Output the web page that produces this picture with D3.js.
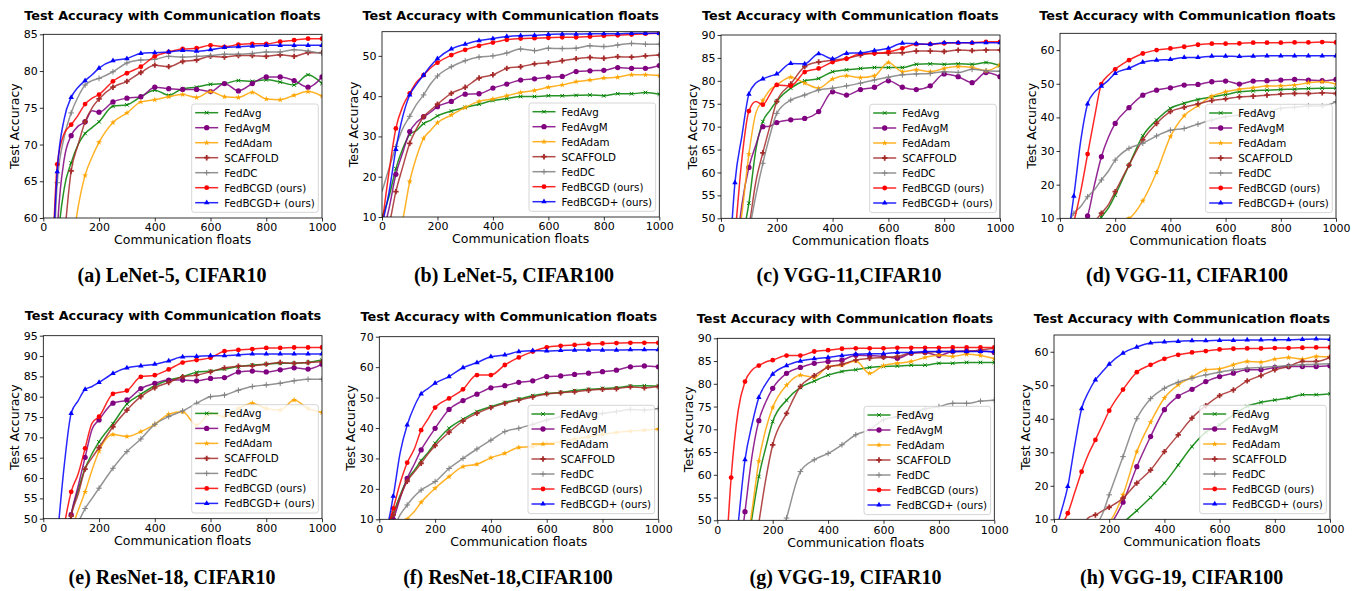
<!DOCTYPE html>
<html>
<head>
<meta charset="utf-8">
<script src="https://cdn.jsdelivr.net/npm/d3@7"></script>
<style>
  body { margin: 0; background: #fff; }
  svg text { font-family: "DejaVu Sans", sans-serif; }
</style>
</head>
<body>
<div id="chart"></div>
<script>
// x positions (communication floats) shared by every series
var floats = [0, 25, 50, 75, 100, 125, 150, 175, 200, 250, 300, 350, 400, 450, 500, 550, 600, 650, 700, 750, 800, 850, 900, 950, 1000];
var methods = ["FedAvg", "FedAvgM", "FedAdam", "SCAFFOLD", "FedDC", "FedBCGD (ours)", "FedBCGD+ (ours)"];
var xTicks = [0, 200, 400, 600, 800, 1000];
var captions = ["(a) LeNet-5, CIFAR10", "(b) LeNet-5, CIFAR100", "(c) VGG-11,CIFAR10", "(d) VGG-11, CIFAR100",
                "(e) ResNet-18, CIFAR10", "(f) ResNet-18,CIFAR100", "(g) VGG-19, CIFAR10", "(h) VGG-19, CIFAR100"];
var yDomains = [[60, 85], [10, 56], [50, 90], [10, 65], [50, 95], [10, 70], [50, 90], [10, 65]];
var yTicks = [
    [60, 65, 70, 75, 80, 85],
    [10, 20, 30, 40, 50],
    [50, 55, 60, 65, 70, 75, 80, 85, 90],
    [10, 20, 30, 40, 50, 60],
    [50, 55, 60, 65, 70, 75, 80, 85, 90, 95],
    [10, 20, 30, 40, 50, 60, 70],
    [50, 55, 60, 65, 70, 75, 80, 85, 90],
    [10, 20, 30, 40, 50, 60]
];

// test accuracy, one row per method (same order as methods)
var lenetCifar10 = [
    [10, 30, 55, 64, 67.5, 70, 71.5, 72.3, 73.1, 75.2, 75.4, 76.5, 77.4, 76.7, 77.6, 77.8, 78.2, 78.3, 78.7, 78.6, 78.8, 78.5, 78.1, 79.5, 78.3],
    [10, 30, 58, 68, 71.2, 72.5, 73.1, 74.6, 74.4, 75.8, 76.3, 76.5, 77.8, 77.6, 77.5, 77.5, 77.2, 78.3, 77.3, 78.3, 79.2, 79.2, 78.7, 77.8, 79.2],
    [10, 25, 35, 48, 55, 61.5, 65.8, 68.3, 70.3, 73.0, 74.3, 75.8, 76.1, 76.5, 76.8, 76.4, 77.2, 76.5, 76.4, 77.1, 76.2, 76.1, 76.7, 77.2, 76.6],
    [10, 30, 45, 57, 66.4, 70, 73.1, 75, 76.2, 77.8, 78.6, 79.8, 80.8, 80.6, 81.3, 81.5, 82.0, 81.9, 82.1, 82.1, 82.0, 82.2, 82.0, 82.5, 82.5],
    [10, 40, 64.8, 71, 74.3, 76.5, 78.1, 78.7, 79.0, 79.9, 81.1, 81.5, 81.6, 82.0, 81.9, 82.0, 82.1, 82.3, 82.3, 82.4, 82.6, 82.6, 82.9, 82.7, 82.4],
    [10, 45, 67.3, 71.5, 72.7, 74, 75.5, 76.3, 76.8, 78.6, 79.7, 80.6, 82.0, 82.6, 83.0, 83.1, 83.5, 83.3, 83.6, 83.7, 83.7, 84.0, 84.2, 84.4, 84.4],
    [10, 45, 66.3, 73.5, 76.4, 77.8, 78.7, 79.5, 80.4, 81.4, 81.7, 82.4, 82.5, 82.6, 82.8, 82.7, 82.9, 83.2, 83.3, 83.4, 83.5, 83.5, 83.5, 83.5, 83.5]
];
var lenetCifar100 = [
    [10, 15, 22, 27, 30.5, 31.5, 33.2, 34, 35.1, 36.3, 37.2, 38.0, 38.9, 39.4, 39.9, 39.9, 40.1, 40.1, 40.2, 40.3, 40.1, 40.6, 40.6, 40.9, 40.5],
    [5, 12, 20.6, 26, 31.2, 33.5, 34.9, 36, 37.4, 38.7, 40.5, 40.6, 42.0, 43.0, 44.0, 44.3, 44.7, 44.9, 46.1, 46.3, 46.4, 47.1, 46.9, 46.9, 47.6],
    [1, 2, 5, 9.5, 18.8, 25, 29.5, 31.5, 33.4, 35.3, 37.2, 38.7, 39.3, 40.1, 40.9, 41.4, 42.2, 42.8, 43.6, 44.0, 44.5, 44.7, 45.3, 45.3, 45.1],
    [5, 8, 16.3, 22.5, 28.3, 32, 34.9, 36.5, 38.0, 40.7, 42.2, 44.5, 45.3, 46.9, 47.3, 48.0, 48.3, 48.8, 49.3, 49.6, 49.4, 49.8, 49.7, 50.0, 50.2],
    [16.3, 22, 27.5, 32, 35, 38, 40.3, 43, 45.0, 47.3, 48.8, 49.7, 50.0, 50.7, 51.7, 51.3, 51.9, 51.8, 51.9, 52.5, 52.3, 52.7, 53.1, 52.9, 52.9],
    [8, 21, 32.0, 37.5, 40.7, 43.5, 45.2, 47, 48.3, 50.2, 51.5, 52.5, 53.3, 54.0, 54.3, 54.4, 54.5, 54.6, 54.6, 54.8, 55.0, 55.1, 55.3, 55.5, 55.6],
    [8, 16, 26.8, 35, 40.3, 43, 45.2, 47.5, 49.3, 51.7, 52.9, 53.8, 54.3, 54.8, 55.0, 55.1, 55.3, 55.4, 55.4, 55.5, 55.5, 55.5, 55.6, 55.6, 55.6]
];
var vgg11Cifar10 = [
    [10, 20, 35, 45, 53.3, 65, 71.1, 73.5, 75.6, 78.4, 80.0, 80.5, 82.0, 82.4, 82.7, 82.9, 82.9, 82.9, 83.6, 83.7, 83.6, 83.7, 83.6, 84.0, 83.3],
    [10, 25, 40, 53, 61.1, 66, 70.0, 70.1, 70.9, 71.5, 71.8, 73.3, 77.6, 76.9, 78.1, 78.6, 80.0, 78.6, 78.1, 78.9, 81.5, 80.9, 79.6, 81.8, 80.9],
    [10, 25, 40, 51, 64.0, 73, 75.7, 78, 79.1, 80.8, 79.5, 78.4, 80.4, 81.1, 80.7, 81.1, 84.0, 82.0, 82.4, 82.0, 82.7, 83.1, 82.9, 82.2, 83.5],
    [10, 20, 30, 40, 48, 58, 64.3, 70, 75.5, 79.3, 83.1, 84.1, 84.5, 84.9, 85.6, 86.0, 86.0, 86.1, 86.5, 86.5, 86.4, 86.7, 86.6, 86.7, 86.7],
    [10, 20, 30, 40, 47, 55, 62, 68, 72.9, 75.8, 76.9, 78.0, 78.4, 78.9, 79.5, 80.2, 80.8, 81.3, 81.5, 81.6, 82.0, 81.8, 82.5, 82.2, 82.1],
    [10, 30, 46, 63, 73.4, 75.5, 74.8, 77, 79.1, 78.9, 81.9, 82.7, 84.1, 84.8, 85.9, 86.0, 86.3, 87.1, 88.0, 88.0, 88.2, 88.3, 88.3, 88.5, 88.5],
    [10, 35, 57.8, 68, 77.1, 79.5, 80.4, 81, 81.5, 83.8, 83.7, 85.9, 84.8, 86.0, 86.1, 86.6, 87.1, 88.2, 88.1, 88.0, 88.3, 88.3, 88.3, 88.3, 88.3]
];
var vgg11Cifar100 = [
    [1, 2, 3, 4, 5, 7, 10.3, 13, 16.9, 25.8, 34.5, 39.2, 42.7, 44.2, 45.3, 46.1, 46.8, 47.6, 47.9, 48.1, 48.3, 48.4, 48.6, 48.7, 48.7],
    [1, 2, 4, 7, 10.7, 20, 28.3, 34, 38.2, 42.9, 46.6, 48.1, 48.8, 49.6, 49.8, 50.6, 50.8, 49.9, 50.8, 50.9, 51.1, 51.3, 51.1, 50.9, 51.3],
    [1, 2, 3, 4, 5, 6, 7, 8, 9, 10, 15.2, 23.7, 34.3, 40.5, 43.5, 46.3, 47.6, 48.4, 48.8, 49.3, 49.4, 49.6, 50.3, 50.6, 49.9],
    [1, 2, 3, 5, 7, 9, 11.5, 14, 17.9, 25.8, 33.3, 38.2, 41.7, 43.0, 44.0, 45.0, 45.5, 46.1, 46.3, 46.6, 46.9, 47.1, 47.1, 47.3, 47.1],
    [5, 8, 11.5, 13.5, 16.4, 18.5, 21.4, 24, 27.3, 30.8, 32.3, 34.5, 36.2, 36.7, 38.0, 39.2, 40.2, 40.7, 41.4, 41.7, 42.7, 43.0, 43.4, 43.4, 44.7],
    [1, 4, 9, 18, 29.1, 40, 49.9, 52.5, 54.3, 57.0, 59.0, 60.0, 60.5, 61.0, 61.6, 61.9, 61.9, 62.0, 62.2, 62.2, 62.2, 62.3, 62.3, 62.4, 62.3],
    [1, 4, 16.6, 33, 44.0, 47.5, 49.3, 51, 53.1, 54.6, 56.4, 57.0, 57.2, 57.8, 57.8, 58.2, 58.2, 58.1, 58.2, 58.3, 58.3, 58.3, 58.3, 58.3, 58.3]
];
var resnetCifar10 = [
    [10, 20, 30, 40, 51, 57, 62.4, 66, 68.9, 73.4, 78.2, 80.6, 82.7, 84.1, 84.9, 86.0, 86.3, 86.8, 87.4, 87.8, 88.0, 88.2, 88.2, 88.4, 89.0],
    [10, 20, 30, 40, 51, 58, 65.1, 72, 74.3, 78.4, 79.2, 82.0, 83.3, 84.1, 84.1, 83.9, 84.5, 84.7, 86.1, 86.3, 86.1, 86.6, 87.1, 86.8, 88.0],
    [10, 20, 30, 40, 47, 52, 56.6, 62, 66.6, 70.7, 70.2, 71.4, 73.2, 75.7, 76.3, 73.0, 75.9, 75.1, 77.1, 78.4, 77.1, 76.7, 79.2, 77.1, 76.1],
    [10, 20, 30, 40, 50.7, 56, 62.2, 65, 67.5, 72.6, 76.7, 80.0, 82.2, 83.5, 84.9, 85.3, 86.1, 87.1, 87.5, 87.6, 88.0, 88.4, 88.2, 88.4, 88.6],
    [10, 20, 30, 40, 45, 49, 52.5, 55, 57.5, 62.4, 66.5, 69.6, 73.2, 75.1, 76.5, 78.4, 80.0, 80.4, 81.6, 82.5, 82.9, 83.3, 83.9, 84.3, 84.3],
    [10, 20, 35, 48, 56.6, 61, 67.3, 73.5, 75.1, 80.7, 81.5, 84.9, 85.3, 86.7, 88.4, 89.0, 89.6, 91.2, 91.5, 91.7, 92.0, 92.0, 92.1, 92.1, 92.1],
    [10, 25, 45, 63, 75.9, 79, 81.8, 82.5, 83.5, 85.7, 87.1, 87.6, 88.0, 88.8, 89.8, 89.9, 90.1, 90.1, 90.3, 90.5, 90.5, 90.5, 90.5, 90.5, 90.5]
];
var resnetCifar100 = [
    [5, 8, 12, 18, 23.1, 26, 29.3, 32, 35.0, 39.9, 42.9, 45.4, 47.0, 48.4, 49.5, 50.6, 51.3, 51.7, 52.3, 52.7, 53.0, 53.2, 53.8, 53.9, 53.8],
    [3, 6, 10, 17, 23.4, 28, 32.8, 36.5, 39.9, 46.1, 49.0, 51.1, 53.2, 53.9, 55.0, 55.5, 56.9, 57.1, 57.6, 58.0, 58.5, 59.0, 60.1, 60.4, 60.1],
    [1, 2, 3, 5, 10, 12.5, 15.6, 18, 20.2, 24.0, 27.3, 28.1, 30.2, 31.7, 33.6, 33.9, 35.0, 35.5, 36.4, 37.1, 37.9, 38.5, 39.0, 39.3, 39.7],
    [5, 8, 11.5, 17.5, 22.5, 25.5, 28.4, 31.5, 34.2, 38.6, 42.3, 44.8, 46.7, 48.1, 49.2, 50.2, 51.2, 51.6, 51.9, 52.4, 52.7, 52.9, 53.5, 53.2, 53.6],
    [2, 4, 7, 11.5, 14.7, 17.5, 19.6, 21, 22.4, 26.7, 30.0, 33.1, 36.0, 38.8, 39.9, 41.2, 42.6, 43.7, 44.8, 44.3, 44.8, 45.4, 46.1, 45.9, 46.4],
    [5, 7, 13.6, 22, 28.6, 33, 39.3, 43, 46.7, 49.7, 52.7, 57.4, 57.4, 60.7, 63.2, 65.1, 66.5, 67.0, 67.3, 67.6, 67.8, 67.9, 68.0, 68.0, 68.0],
    [5, 7, 17.6, 32, 41, 47, 51.2, 53, 54.7, 56.9, 59.8, 61.5, 63.4, 64.0, 65.1, 65.4, 65.3, 65.5, 65.6, 65.6, 65.6, 65.6, 65.7, 65.7, 65.7]
];
var vgg19Cifar10 = [
    [10, 15, 20, 30, 40, 50.5, 59.6, 66, 71.7, 76.4, 79.2, 80.6, 81.9, 82.7, 83.1, 83.6, 83.8, 83.9, 84.1, 84.1, 84.5, 84.5, 84.7, 84.7, 84.7],
    [10, 20, 30, 40, 51.9, 64, 71.9, 76, 79.0, 82.3, 83.6, 84.5, 84.9, 85.2, 86.3, 86.2, 86.0, 85.6, 86.7, 86.9, 86.2, 87.1, 87.2, 87.2, 86.9],
    [10, 15, 20, 30, 42, 52, 63.0, 70, 74.8, 79.7, 81.9, 81.4, 83.8, 84.1, 85.0, 82.3, 84.0, 84.5, 84.9, 85.8, 86.3, 86.0, 86.5, 86.2, 85.5],
    [10, 15, 20, 25, 30, 40, 49.5, 59, 66.6, 73.5, 79.4, 81.8, 83.6, 84.3, 85.2, 85.6, 85.8, 86.0, 86.8, 86.9, 87.1, 87.1, 87.1, 87.4, 87.8],
    [10, 12, 15, 18, 22, 26, 30, 34, 40, 50.5, 60.7, 63.3, 64.7, 66.6, 68.8, 69.9, 72.1, 72.8, 73.5, 74.5, 75.0, 75.7, 75.7, 76.2, 76.4],
    [10, 35, 59.4, 74, 80.5, 83, 84.0, 84.8, 85.2, 86.2, 86.2, 87.1, 87.4, 87.7, 87.8, 87.8, 87.8, 87.9, 87.9, 87.9, 87.9, 88.0, 88.0, 88.0, 88.0],
    [10, 20, 35, 49, 63.3, 71, 77.0, 80, 82.1, 84.0, 85.0, 85.5, 85.8, 86.2, 86.5, 86.6, 86.6, 86.9, 86.9, 87.1, 87.1, 87.1, 87.1, 87.1, 87.1]
];
var vgg19Cifar100 = [
    [1, 1, 1, 1, 1, 2, 3, 4, 5, 9, 12.6, 16.5, 20.8, 26.2, 31.7, 36.0, 38.2, 41.2, 43.7, 44.9, 45.6, 46.2, 47.2, 47.2, 47.5],
    [1, 1, 1, 2, 3, 4, 5, 6, 8, 15.1, 25.7, 34.7, 42.7, 46.7, 48.8, 51.1, 52.6, 53.6, 54.6, 54.6, 55.3, 55.6, 55.6, 55.6, 55.8],
    [1, 1, 1, 2, 3, 4, 5, 7, 9, 17.3, 30.2, 39.0, 46.2, 50.1, 52.4, 54.6, 54.9, 56.1, 57.1, 56.9, 57.8, 58.3, 57.8, 58.6, 58.5],
    [1, 2, 4, 6, 8, 10.5, 11.3, 12.5, 13.6, 16.3, 20.8, 24.7, 30.2, 35.2, 40.2, 43.9, 46.9, 48.6, 51.3, 52.9, 54.6, 55.6, 57.1, 57.1, 58.3],
    [1, 2, 3, 4, 5, 6, 8, 11.5, 17.3, 28.7, 40.0, 46.0, 49.1, 50.9, 52.1, 53.1, 53.9, 54.6, 55.1, 55.3, 55.6, 55.9, 56.1, 56.3, 56.4],
    [5, 8, 11.8, 18, 24.2, 29.5, 33.7, 38, 42.4, 48.7, 53.9, 56.1, 57.9, 59.1, 59.8, 60.2, 60.7, 60.9, 61.0, 61.0, 61.1, 61.1, 61.2, 61.3, 61.3],
    [5, 12, 19.8, 32, 43.0, 48, 51.6, 54, 56.3, 59.6, 61.4, 62.6, 62.9, 63.1, 63.3, 63.3, 63.4, 63.4, 63.5, 63.5, 63.6, 63.6, 63.7, 63.8, 63.7]
];
var panelData = [lenetCifar10, lenetCifar100, vgg11Cifar10, vgg11Cifar100,
                 resnetCifar10, resnetCifar100, vgg19Cifar10, vgg19Cifar100];

// styling
var colors = ["green", "purple", "orange", "brown", "gray", "red", "blue"];
var markerTypes = ["x", "circle", "star", "cross", "plus", "dot", "triangle"];

// plot areas in page pixels, plus title / caption anchor points
var layout = [
    {l: 43.3, r: 322, t: 34.3, b: 218, tx: 172.5, ty: 15, cx: 172, cy: 275},
    {l: 382, r: 659.3, t: 31.7, b: 217, tx: 510.7, ty: 15, cx: 514, cy: 275},
    {l: 721, r: 1000, t: 35, b: 218.3, tx: 850.3, ty: 15, cx: 849, cy: 275},
    {l: 1060, r: 1336, t: 33.3, b: 218.3, tx: 1187.5, ty: 15, cx: 1187, cy: 275},
    {l: 43.3, r: 322, t: 335.7, b: 518.7, tx: 173, ty: 315, cx: 172, cy: 576.7},
    {l: 379.3, r: 658.3, t: 336.7, b: 519.3, tx: 508.8, ty: 316.7, cx: 508, cy: 576.7},
    {l: 717.3, r: 994.3, t: 338.3, b: 520.3, tx: 845, ty: 318.3, cx: 845.5, cy: 576.7},
    {l: 1054, r: 1330, t: 335, b: 519.3, tx: 1182, ty: 318.3, cx: 1181.7, cy: 576.7}
];

var svg = d3.select("#chart")
    .append("svg")
    .attr("width", 1361)
    .attr("height", 591);

function drawMarker(g, type, color) {
    if (type == "x") {
        g.append("path").attr("d", d3.symbol(d3.symbolTimes, 10)())
            .attr("fill", "none").attr("stroke", color).attr("stroke-width", 1);
    } else if (type == "plus") {
        g.append("path").attr("d", d3.symbol(d3.symbolPlus, 12)())
            .attr("fill", "none").attr("stroke", color).attr("stroke-width", 1);
    } else if (type == "circle") {
        g.append("path").attr("d", d3.symbol(d3.symbolCircle, 22)()).attr("fill", color);
    } else if (type == "star") {
        g.append("path").attr("d", d3.symbol(d3.symbolStar, 11)()).attr("fill", color);
    } else if (type == "cross") {
        g.append("path").attr("d", d3.symbol(d3.symbolCross, 16)()).attr("fill", color);
    } else if (type == "dot") {
        g.append("path").attr("d", d3.symbol(d3.symbolCircle, 18)()).attr("fill", color);
    } else {
        g.append("path").attr("d", d3.symbol(d3.symbolTriangle, 13)()).attr("fill", color);
    }
}

panelData.forEach(function(series, p) {
    var box = layout[p];
    var w = box.r - box.l;
    var h = box.b - box.t;

    var xScale = d3.scaleLinear().domain([0, 1000]).range([0, w]);
    var yScale = d3.scaleLinear().domain(yDomains[p]).range([h, 0]);

    var g = svg.append("g").attr("transform", `translate(${box.l}, ${box.t})`);

    svg.append("clipPath").attr("id", "clip" + p)
        .append("rect").attr("width", w).attr("height", h);

    // axes
    var bottomAxis = d3.axisBottom(xScale).tickValues(xTicks).tickFormat(d3.format("d"))
        .tickSize(3.5).tickPadding(2).tickSizeOuter(0);
    var leftAxis = d3.axisLeft(yScale).tickValues(yTicks[p]).tickFormat(d3.format("d"))
        .tickSize(3.5).tickPadding(2).tickSizeOuter(0);

    var xAxis = g.append("g").attr("transform", `translate(0, ${h})`).call(bottomAxis);
    var yAxis = g.append("g").call(leftAxis);
    [xAxis, yAxis].forEach(function(a) {
        a.select(".domain").remove();
        a.selectAll("line").attr("stroke", "#000").attr("stroke-width", 0.8);
        a.selectAll("text").attr("fill", "#000").style("font-size", "11px")
            .style("font-family", "'DejaVu Sans', sans-serif");
    });

    // lines and markers
    var plot = g.append("g").attr("clip-path", `url(#clip${p})`);
    var line = d3.line()
        .x(function(d, i) { return xScale(floats[i]); })
        .y(function(d) { return yScale(d); })
        .curve(d3.curveMonotoneX);

    series.forEach(function(vals, m) {
        plot.append("path")
            .datum(vals)
            .attr("d", line)
            .attr("fill", "none")
            .attr("stroke", colors[m])
            .attr("stroke-opacity", 0.85)
            .attr("stroke-width", 1.5);

        vals.forEach(function(v, i) {
            if (floats[i] > 0 && floats[i] % 50 == 0) {
                var mk = plot.append("g")
                    .attr("transform", `translate(${xScale(floats[i])}, ${yScale(v)})`);
                drawMarker(mk, markerTypes[m], colors[m]);
            }
        });
    });

    // frame
    g.append("rect").attr("width", w).attr("height", h)
        .attr("fill", "none").attr("stroke", "#000").attr("stroke-width", 0.8);

    // axis labels
    g.append("text")
        .attr("transform", `translate(${-29}, ${h / 2}) rotate(-90)`)
        .attr("text-anchor", "middle")
        .attr("dominant-baseline", "central")
        .style("font-size", "12.5px")
        .text("Test Accuracy");

    g.append("text")
        .attr("x", w / 2)
        .attr("y", h + 22)
        .attr("text-anchor", "middle")
        .attr("dominant-baseline", "central")
        .style("font-size", "12.5px")
        .text("Communication floats");

    // legend
    var legW = 126.6, legH = 108.3;
    var leg = g.append("g").attr("transform", `translate(${w - 3.7 - legW}, ${h - 5.7 - legH})`);
    leg.append("rect").attr("width", legW).attr("height", legH).attr("rx", 2.5)
        .attr("fill", "#fff").attr("fill-opacity", 0.8)
        .attr("stroke", "#ccc").attr("stroke-width", 0.8);
    methods.forEach(function(name, m) {
        var yy = 8.7 + m * 15;
        leg.append("line").attr("x1", 3.5).attr("x2", 26.5).attr("y1", yy).attr("y2", yy)
            .attr("stroke", colors[m]).attr("stroke-opacity", 0.85).attr("stroke-width", 1.5);
        var mk = leg.append("g").attr("transform", `translate(15, ${yy})`);
        drawMarker(mk, markerTypes[m], colors[m]);
        leg.append("text").attr("x", 32.5).attr("y", yy)
            .attr("dominant-baseline", "central")
            .style("font-size", "10.3px")
            .text(name);
    });

    // title and caption
    svg.append("text")
        .attr("x", box.tx).attr("y", box.ty)
        .attr("text-anchor", "middle")
        .attr("dominant-baseline", "central")
        .style("font-size", "12.8px")
        .style("font-weight", "bold")
        .text("Test Accuracy with Communication floats");

    svg.append("text")
        .attr("x", box.cx).attr("y", box.cy)
        .attr("text-anchor", "middle")
        .attr("dominant-baseline", "central")
        .style("font-family", "'Liberation Serif', 'DejaVu Serif', serif")
        .style("font-size", "20px")
        .style("font-weight", "bold")
        .text(captions[p]);
});
</script>
</body>
</html>
